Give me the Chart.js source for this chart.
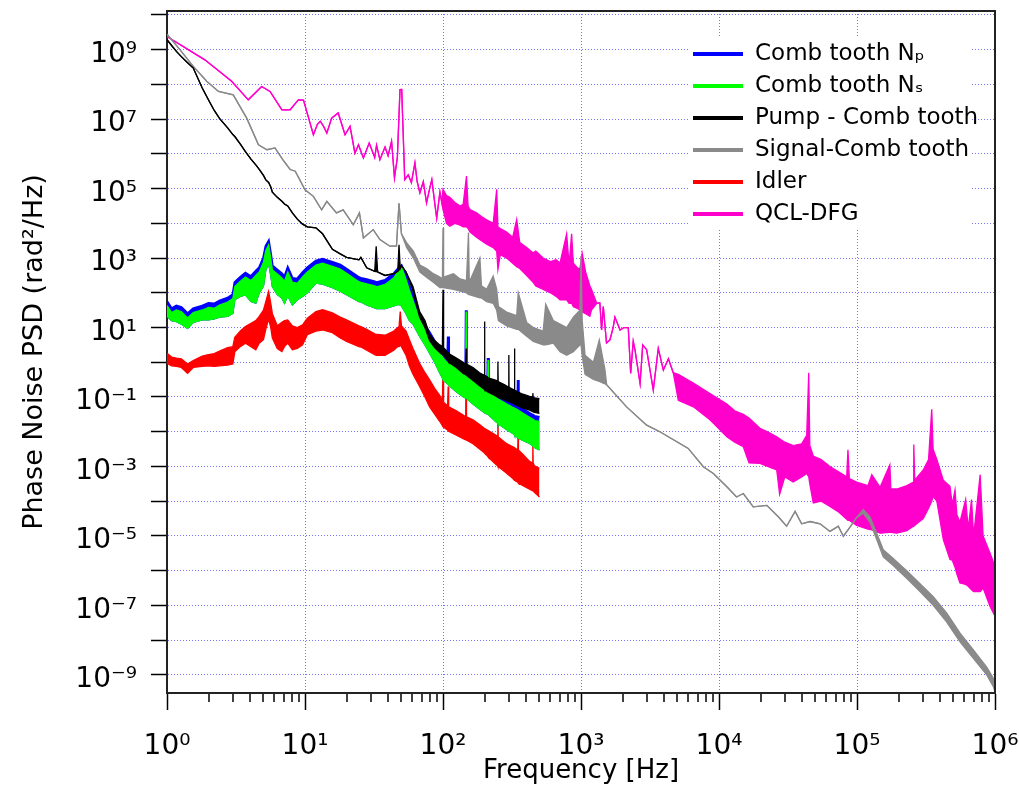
<!DOCTYPE html>
<html>
<head>
<meta charset="utf-8">
<script src="https://cdn.jsdelivr.net/npm/chart.js@4.4.1/dist/chart.umd.min.js"></script>
<style>
  html, body { margin: 0; padding: 0; background: #fff; }
  #wrap { width: 1019px; height: 787px; }
</style>
</head>
<body>
<div id="wrap"><canvas id="psdChart" width="1019" height="787"></canvas></div>
<script>
// Frequency grid [Hz] shared by the four comb / pump / idler traces
const combFreq = [
  1, 1.08, 1.17, 1.27, 1.41, 1.55, 1.8, 2, 2.2, 2.4,
  2.75, 3, 3.1, 3.4, 3.7, 4.06, 4.4, 4.66, 5, 5.2,
  5.45, 5.65, 5.8, 6.3, 6.8, 7.1, 7.5, 8.1, 8.8, 9.6,
  10.4, 12, 13.4, 15.8, 18, 20, 24.6, 25.4, 28, 32,
  32.8, 33.6, 38, 44, 47, 48, 49, 50, 54, 57,
  60.6, 67.7, 74, 80, 87, 94.6, 99, 100, 101, 108,
  109, 110, 125, 140, 146, 147, 148, 165, 184, 199,
  200, 201, 210, 212, 214, 243, 249, 250, 251, 280,
  299, 300, 301, 321, 329, 330, 331, 348, 350, 352,
  380, 424, 446, 448, 450, 460, 500
];

// Comb tooth Np (upper edge of the noise band)
const blueHi = [
  56, 35, 42, 38, 25, 35, 42, 50, 48, 58,
  71, 89, 200, 280, 370, 295, 420, 525, 1000, 2190,
  3020, 1260, 600, 457, 355, 282, 525, 263, 251, 380,
  525, 832, 933, 759, 631, 479, 275, 263, 240, 209,
  200, 200, 229, 355, 479, 525, 562, 603, 316, 158,
  79, 22, 11.2, 7.1, 4.0, 2.4, 1.9, 1.78, 1.66, 1.26,
  5.5, 1.2, 0.89, 0.68, 0.56, 31.6, 0.56, 0.45, 0.32, 0.24,
  0.234, 0.234, 0.2, 1.32, 0.2, 0.126, 0.117, 0.117, 0.115, 0.089,
  0.076, 0.076, 0.076, 0.066, 0.063, 0.063, 0.063, 0.056, 0.31, 0.055,
  0.045, 0.034, 0.030, 0.030, 0.030, 0.028, 0.026
];

// Comb tooth Ns
const greenHi = [
  43, 27, 32, 29, 19, 27, 32, 38, 36, 44,
  54, 68, 151, 214, 282, 224, 316, 398, 759, 1660,
  2400, 955, 457, 347, 269, 214, 398, 200, 190, 288,
  398, 631, 708, 575, 479, 363, 209, 200, 182, 158,
  151, 151, 174, 269, 398, 457, 525, 575, 240, 120,
  60, 17, 8.5, 5.4, 3.0, 1.82, 1.45, 1.35, 1.26, 0.95,
  0.93, 0.91, 0.68, 0.51, 0.43, 28.8, 0.43, 0.34, 0.24, 0.18,
  0.178, 0.178, 0.151, 1.17, 0.151, 0.095, 0.089, 0.089, 0.087, 0.068,
  0.058, 0.058, 0.058, 0.05, 0.048, 0.048, 0.048, 0.043, 0.042, 0.042,
  0.034, 0.026, 0.023, 0.023, 0.023, 0.021, 0.02
];
const greenLo = [
  21, 15.8, 14.8, 12.6, 9.5, 14.1, 16.6, 16.6, 17.8, 20,
  21, 25.7, 63, 79, 87, 56, 50, 100, 158, 457,
  708, 316, 151, 89, 71, 50, 83, 45, 63, 79,
  100, 190, 178, 141, 112, 89, 56, 55, 45, 37,
  35, 35, 35, 42, 46, 46, 45, 42, 25, 16,
  12.6, 5.6, 3.16, 1.82, 1.0, 0.5, 0.355, 0.316, 0.3, 0.24,
  0.23, 0.22, 0.141, 0.102, 0.093, 0.093, 0.093, 0.063, 0.045, 0.036,
  0.035, 0.035, 0.032, 0.032, 0.032, 0.019, 0.018, 0.017, 0.017, 0.0126,
  0.0105, 0.0105, 0.0105, 0.0089, 0.0083, 0.0079, 0.0079, 0.0068, 0.0066, 0.0066,
  0.0056, 0.0046, 0.004, 0.0039, 0.0038, 0.0035, 0.003
];

// Pump - Comb tooth
const pumpHi = [
  1.95e9, 1.32e9, 8.9e8, 6.3e8, 4.2e8, 2.95e8, 7.9e7, 3.55e7, 1.78e7, 1.05e7,
  5.6e6, 3.6e6, 3.16e6, 1.9e6, 1.17e6, 7.1e5, 4.8e5, 3.6e5, 2.4e5, 1.78e5,
  1.51e5, 1.12e5, 7.9e4, 5.6e4, 4.3e4, 3.6e4, 3.16e4, 2.0e4, 1.32e4, 9.5e3,
  7.9e3, 7.4e3, 5.0e3, 1.78e3, 1.32e3, 1.05e3, 890, 1050, 525, 417,
  2190, 398, 316, 355, 417, 2400, 501, 603, 398, 251,
  151, 28.8, 15.8, 6.3, 4.2, 3.16, 2.82, 123, 2.63, 2.0,
  1.9, 1.78, 1.32, 1.0, 0.89, 2.5, 0.89, 0.71, 0.5, 0.42,
  14.8, 0.42, 0.38, 0.355, 0.355, 0.3, 0.28, 1.05, 0.28, 0.224,
  0.19, 1.62, 0.19, 0.166, 0.158, 2.5, 0.158, 0.141, 0.138, 0.138,
  0.12, 0.105, 0.1, 0.129, 0.1, 0.095, 0.089
];
const pumpLo = [
  1.95e9, 1.32e9, 8.9e8, 6.3e8, 4.2e8, 2.95e8, 7.9e7, 3.55e7, 1.78e7, 1.05e7,
  5.6e6, 3.6e6, 3.16e6, 1.9e6, 1.17e6, 7.1e5, 4.8e5, 3.6e5, 2.4e5, 1.78e5,
  1.51e5, 1.12e5, 7.9e4, 5.6e4, 4.3e4, 3.6e4, 3.16e4, 2.0e4, 1.32e4, 9.5e3,
  7.9e3, 7.4e3, 5.0e3, 1.78e3, 1.32e3, 1.05e3, 890, 1050, 525, 417,
  407, 398, 316, 355, 417, 457, 501, 603, 398, 224,
  112, 20, 10, 4.2, 2.63, 1.9, 1.66, 1.62, 1.58, 1.12,
  1.07, 1.0, 0.71, 0.48, 0.44, 0.43, 0.42, 0.3, 0.21, 0.166,
  0.162, 0.158, 0.145, 0.138, 0.135, 0.105, 0.1, 0.1, 0.098, 0.083,
  0.074, 0.074, 0.074, 0.066, 0.063, 0.063, 0.062, 0.056, 0.055, 0.055,
  0.048, 0.042, 0.038, 0.038, 0.037, 0.036, 0.034
];

// Idler
const idlerHi = [
  1.82, 1.41, 1.32, 1.26, 0.89, 1.12, 1.51, 1.66, 1.78, 2.09,
  2.63, 2.82, 5.25, 7.94, 10.7, 13.2, 15.8, 20.9, 31.6, 56,
  110, 50, 25, 11.2, 14.1, 15.8, 16.6, 11.2, 10, 12,
  18.6, 28.8, 32.4, 26.3, 20, 16.6, 11.2, 10.7, 8.9, 6.6,
  6.3, 6.3, 6.0, 7.9, 10, 10.5, 28.8, 11.2, 7.9, 4.5,
  2.5, 0.93, 0.5, 0.31, 0.178, 0.112, 0.079, 0.6, 0.071, 0.056,
  0.2, 0.052, 0.04, 0.03, 0.027, 0.48, 0.027, 0.022, 0.016, 0.0126,
  0.0126, 0.0126, 0.0112, 0.011, 0.0107, 0.0079, 0.0076, 0.047, 0.0072, 0.005,
  0.0042, 0.0042, 0.0042, 0.0037, 0.0035, 0.0034, 0.0034, 0.003, 0.0089, 0.003,
  0.0022, 0.0014, 0.00126, 0.0058, 0.00126, 0.00105, 0.00089
];
const idlerLo = [
  0.93, 0.79, 0.76, 0.71, 0.48, 0.71, 0.76, 0.79, 0.76, 0.79,
  0.83, 0.89, 2.0, 2.82, 3.55, 2.82, 2.29, 3.55, 4.47, 8.9,
  17.8, 10, 5, 2.5, 2.04, 2.82, 3.55, 2.29, 2.5, 3.16,
  6.2, 7.9, 8.5, 7.1, 5.0, 4.0, 2.82, 2.75, 2.24, 1.66,
  1.58, 1.58, 1.58, 2.24, 2.82, 2.82, 3.02, 2.82, 1.58, 0.79,
  0.45, 0.2, 0.1, 0.052, 0.032, 0.02, 0.015, 0.0138, 0.0138, 0.0112,
  0.0105, 0.0105, 0.0079, 0.0063, 0.0058, 0.0058, 0.0058, 0.0045, 0.0032, 0.0025,
  0.0024, 0.0024, 0.002, 0.0019, 0.0018, 0.00112, 0.00105, 0.001, 0.001, 0.00071,
  0.00056, 0.00056, 0.00056, 0.00045, 0.0004, 0.0004, 0.0004, 0.00035, 0.00034, 0.00033,
  0.00028, 0.00022, 0.0002, 0.0002, 0.0002, 0.00018, 0.000132
];

// Signal - Comb tooth
const signalFreq = [
  1, 1.24, 1.55, 1.94, 2.36, 3.02, 3.78, 4.6, 5.3, 6.06,
  6.9, 7.8, 8.5, 10, 11.5, 13.2, 14.4, 16.9, 18.9, 22.4,
  24.8, 26.5, 31.2, 34.9, 41.2, 46, 48, 50, 54.6, 61,
  68, 76, 85, 95, 99, 100, 101, 119, 133, 148,
  153, 155, 185, 190, 207, 231, 245, 252, 289, 342,
  351, 404, 451, 532, 555, 630, 705, 787, 880, 983,
  1000, 1020, 1070, 1230, 1357, 1490, 1535, 2140, 2990, 3730,
  5985, 7700, 9100, 11400, 13400, 15000, 17700, 22200, 26900, 30900,
  35600, 39700, 45700, 54000, 63700, 73200, 79600, 89000, 99000, 111000,
  124000, 139000, 155000, 183000, 229000, 286000, 357000, 447000, 558000, 697000,
  871000, 975000, 1000000
];
const signalHi = [
  2.8e9, 1.0e9, 3.3e8, 1.23e8, 6.3e7, 5.0e7, 1.07e7, 1.82e6, 1.32e6, 1.48e6,
  6.8e5, 3.55e5, 3.16e5, 9.3e4, 6.0e4, 2.45e4, 4.3e4, 2.0e4, 2.45e4, 9.1e3,
  2.0e4, 3.8e3, 6.6e3, 3.4e3, 2.2e3, 2.2e3, 3.8e4, 5.0e3, 2.75e3, 1.58e3,
  631, 501, 355, 282, 251, 7.4e3, 282, 355, 251, 224,
  5.4e3, 200, 1.0e3, 158, 126, 302, 126, 40, 28, 22,
  100, 14, 10, 7.9, 47, 15.8, 12.6, 10, 20, 31.6,
  1150, 15.8, 1.58, 1.0, 4.4, 0.63, 0.224, 0.052, 0.0155, 0.01,
  0.0033, 9.8e-4, 6.3e-4, 2.6e-4, 1.32e-4, 1.66e-4, 6.9e-5, 7.6e-5, 3.55e-5, 1.9e-5,
  5.1e-5, 2.24e-5, 2.6e-5, 2.24e-5, 1.35e-5, 1.9e-5, 9.8e-6, 1.78e-5, 3.3e-5, 5.8e-5,
  3.55e-5, 1.2e-5, 4.0e-6, 2.24e-6, 1.0e-6, 4.2e-7, 1.78e-7, 6.0e-8, 1.58e-8, 5.2e-9,
  1.66e-9, 7.9e-10, 5.6e-10
];
const signalLo = [
  2.8e9, 1.0e9, 3.3e8, 1.23e8, 6.3e7, 5.0e7, 1.07e7, 1.82e6, 1.32e6, 1.48e6,
  6.8e5, 3.55e5, 3.16e5, 9.3e4, 6.0e4, 2.45e4, 4.3e4, 2.0e4, 2.45e4, 9.1e3,
  2.0e4, 3.8e3, 6.6e3, 3.4e3, 2.2e3, 2.2e3, 3.8e4, 5.0e3, 2.0e3, 1.0e3,
  398, 282, 200, 141, 141, 141, 141, 126, 112, 100,
  89, 89, 71, 71, 56, 50, 31.6, 15.8, 11.2, 8.9,
  8.9, 5.6, 4.0, 3.16, 3.16, 3.55, 2.0, 1.58, 2.0, 3.16,
  3.16, 1.58, 0.45, 0.32, 0.28, 0.24, 0.224, 0.052, 0.0155, 0.01,
  0.0033, 9.8e-4, 6.3e-4, 2.6e-4, 1.32e-4, 1.66e-4, 6.9e-5, 7.6e-5, 3.55e-5, 1.9e-5,
  5.1e-5, 2.24e-5, 2.6e-5, 2.24e-5, 1.35e-5, 1.9e-5, 9.8e-6, 1.78e-5, 3.3e-5, 4.5e-5,
  2.5e-5, 7.9e-6, 2.5e-6, 1.41e-6, 6.0e-7, 2.5e-7, 1.0e-7, 3.3e-8, 8.9e-9, 3.0e-9,
  1.0e-9, 4.5e-10, 3.2e-10
];

// QCL-DFG
const qclFreq = [
  1, 1.88, 2.94, 3.88, 4.85, 5.58, 6.8, 7.8, 8.95, 9.75,
  11.5, 12.3, 12.9, 13.6, 14.4, 15.6, 17.4, 19.5, 21.2, 23,
  24.4, 26.5, 29.2, 32, 33, 34.9, 38, 40, 42.4, 44.5,
  46.7, 48.8, 50.2, 52.8, 56, 59, 62.6, 65, 68, 72,
  76, 80, 83, 87, 90, 95, 98, 100, 106, 112,
  122, 133, 140, 148, 152, 157, 175, 190, 207, 231,
  245, 250, 260, 289, 320, 342, 360, 404, 450, 470,
  532, 600, 660, 705, 787, 820, 855, 880, 950, 983,
  1020, 1080, 1160, 1190, 1300, 1370, 1410, 1450, 1530, 1620,
  1710, 1760, 1920, 2050, 2200, 2290, 2390, 2460, 2680, 2800,
  2990, 3340, 3630, 3950, 4300, 4660, 5070, 6520, 8600, 11400,
  13000, 15000, 16500, 19800, 22500, 26200, 27500, 30000, 34500, 39700,
  43200, 44700, 45500, 48200, 55000, 63700, 73000, 84200, 86000, 88000,
  99400, 120000, 128000, 147000, 173000, 176000, 194000, 230000, 256000, 258000,
  262000, 302000, 330000, 348000, 356000, 379000, 422000, 472000, 490000, 513000,
  530000, 557000, 613000, 640000, 676000, 700000, 781000, 820000, 921000, 1000000
];
const qclHi = [
  2.4e9, 5.1e8, 1.23e8, 3.6e7, 8.7e7, 6.3e7, 1.86e7, 1.86e7, 3.6e7, 3.55e7,
  3.55e6, 7.1e6, 8.7e6, 6.3e6, 4.0e6, 1.07e7, 1.51e7, 3.55e6, 6.2e6, 1.05e6,
  1.82e6, 7.6e5, 2.04e6, 7.9e5, 1.78e6, 6.8e5, 1.58e6, 8.9e5, 2.3e6, 2.04e5,
  7.9e5, 7.1e7, 7.2e7, 1.82e5, 2.5e5, 1.48e5, 5.5e5, 1.58e5, 7.6e4, 1.58e5,
  3.9e4, 1.0e5, 1.82e5, 4.0e4, 1.41e4, 7.9e4, 4.0e4, 9.5e4, 6.3e4, 5.6e4,
  4.0e4, 3.16e4, 3.55e4, 2.3e5, 3.16e4, 2.5e4, 2.0e4, 1.58e4, 1.26e4, 1.0e4,
  9.5e4, 7.9e3, 7.1e3, 5.6e3, 4.0e3, 1.29e4, 2.8e3, 2.0e3, 1.41e3, 1.58e3,
  1.0e3, 794, 891, 724, 5.0e3, 631, 5.0e3, 708, 501, 501,
  1.38e3, 398, 158, 126, 50, 51, 8.5, 40, 3.6, 4.4,
  10, 20, 8.5, 10, 10, 0.48, 4.0, 2.3, 0.245, 3.16,
  2.3, 0.158, 2.5, 0.6, 1.26, 0.5, 0.45, 0.25, 0.126, 0.063,
  0.04, 0.0316, 0.025, 0.0126, 0.01, 0.0071, 0.0063, 0.005, 0.004, 0.0045,
  0.0079, 0.5, 0.004, 0.002, 0.00158, 1.0e-3, 7.1e-4, 5.0e-4, 3.0e-3, 4.5e-4,
  3.55e-4, 2.8e-4, 5.8e-4, 2.5e-4, 1.12e-3, 2.24e-4, 2.24e-4, 2.8e-4, 3.55e-4, 4.3e-3,
  4.0e-4, 7.9e-4, 1.58e-3, 0.044, 3.16e-3, 1.58e-3, 4.0e-4, 2.7e-4, 7.9e-5, 2.1e-4,
  4.0e-5, 2.5e-5, 1.12e-4, 1.58e-5, 1.12e-4, 1.0e-5, 5.8e-4, 1.0e-5, 3.16e-6, 1.32e-6
];
const qclLo = [
  2.4e9, 5.1e8, 1.23e8, 3.6e7, 8.7e7, 6.3e7, 1.86e7, 1.86e7, 3.6e7, 3.55e7,
  3.55e6, 7.1e6, 8.7e6, 6.3e6, 4.0e6, 1.07e7, 1.51e7, 3.55e6, 6.2e6, 1.05e6,
  1.82e6, 7.6e5, 2.04e6, 7.9e5, 1.78e6, 6.8e5, 1.58e6, 8.9e5, 2.3e6, 2.04e5,
  7.9e5, 7.1e7, 7.2e7, 1.82e5, 2.5e5, 1.48e5, 5.5e5, 1.58e5, 7.6e4, 1.58e5,
  3.9e4, 1.0e5, 1.82e5, 4.0e4, 1.41e4, 7.9e4, 4.0e4, 2.5e4, 1.0e4, 8.3e3,
  1.0e4, 8.9e3, 7.9e3, 7.9e3, 7.1e3, 5.6e3, 4.0e3, 3.16e3, 2.5e3, 2.0e3,
  1.58e3, 470, 1.26e3, 1.0e3, 710, 560, 500, 316, 200, 158,
  126, 100, 79, 63, 63, 50, 50, 40, 35, 31.6,
  28, 25, 21, 31.6, 50, 51, 8.5, 40, 3.6, 4.4,
  10, 20, 8.5, 10, 10, 0.48, 4.0, 2.3, 0.245, 3.16,
  2.3, 0.158, 2.5, 0.6, 1.26, 0.5, 0.081, 0.052, 0.022, 0.0072,
  0.005, 0.0037, 0.00126, 0.00123, 0.001, 7.9e-4, 1.58e-4, 5.0e-4, 3.55e-4, 5.0e-4,
  6.3e-4, 5.0e-4, 3.16e-4, 8.9e-5, 1.0e-4, 7.1e-5, 5.0e-5, 3.0e-5, 2.8e-5, 2.8e-5,
  2.0e-5, 1.58e-5, 1.5e-5, 1.2e-5, 1.26e-5, 1.26e-5, 1.2e-5, 1.41e-5, 1.9e-5, 2.0e-5,
  2.0e-5, 3.16e-5, 6.3e-5, 1.0e-4, 1.38e-4, 1.0e-4, 7.8e-6, 2.1e-6, 2.0e-6, 1.26e-6,
  7.9e-7, 4.4e-7, 4.0e-7, 3.55e-7, 2.8e-7, 2.5e-7, 2.5e-7, 3.16e-7, 9.3e-8, 4.9e-8
];

// Axis ticks
const xTicks = [1, 10, 100, 1e3, 1e4, 1e5, 1e6];
const yTicks = [1e-9, 1e-8, 1e-7, 1e-6, 1e-5, 1e-4, 1e-3, 1e-2, 1e-1, 1,
                10, 100, 1e3, 1e4, 1e5, 1e6, 1e7, 1e8, 1e9, 1e10];
const xMinorTicks = xTicks.slice(0, -1).flatMap(d => [2, 3, 4, 5, 6, 7, 8, 9].map(m => m * d));

const GRID = 'rgba(80, 80, 255, 0.8)';
const FONT = 'DejaVu Sans';
const SUP = {'0':'⁰','1':'¹','2':'²','3':'³','4':'⁴','5':'⁵','6':'⁶','7':'⁷','8':'⁸','9':'⁹','-':'⁻'};
const toSup = n => String(n).split('').map(c => SUP[c]).join('');
const isDecade = v => Math.abs(Math.log10(v) - Math.round(Math.log10(v))) < 1e-6;
const powLabel = v => '10' + toSup(Math.round(Math.log10(v)));

// each trace = upper edge + lower edge, the band between them filled
function band(label, color, freq, hi, lo, order, width = 1.3) {
  const pts = arr => freq.map((f, i) => ({ x: f, y: arr[i] }));
  return [
    { label, data: pts(hi), borderColor: color, backgroundColor: color,
      borderWidth: width, pointRadius: 0, fill: false, order },
    { label: label + ' (lower)', lowEdge: true, data: pts(lo), borderColor: color,
      backgroundColor: color, borderWidth: 1.3, pointRadius: 0, fill: '-1', order }
  ];
}

const datasets = [
  ...band('Comb tooth Nₚ', '#0000ff', combFreq, blueHi, greenLo, 4, 2.6),
  ...band('Comb tooth Nₛ', '#00ff00', combFreq, greenHi, greenLo, 3),
  ...band('Pump - Comb tooth', '#000000', combFreq, pumpHi, pumpLo, 1),
  ...band('Signal-Comb tooth', '#8a8a8a', signalFreq, signalHi, signalLo, 2),
  ...band('Idler', '#ff0000', combFreq, idlerHi, idlerLo, 5),
  ...band('QCL-DFG', '#ff00cc', qclFreq, qclHi, qclLo, 6)
];

// fixed axis boxes, no automatic padding for overhanging labels
const fixBox = size => s => {
  if (s.isHorizontal()) s.height = size; else s.width = size;
  s.paddingLeft = 0; s.paddingRight = 0; s.paddingTop = 0; s.paddingBottom = 0;
};

// top and right edges of the plot frame
const frame = {
  id: 'frame',
  afterDatasetsDraw(chart) {
    const { ctx, chartArea: a } = chart;
    ctx.save();
    ctx.strokeStyle = '#222';
    ctx.lineWidth = 2;
    ctx.beginPath();
    ctx.moveTo(a.left, a.top);
    ctx.lineTo(a.right, a.top);
    ctx.lineTo(a.right, a.bottom);
    ctx.stroke();
    ctx.restore();
  }
};

// legend in the upper right of the plot
const legendBox = {
  id: 'legendBox',
  afterDraw(chart) {
    const { ctx, chartArea: a } = chart;
    const items = chart.data.datasets.filter(d => !d.lowEdge);
    ctx.save();
    ctx.fillStyle = '#fff';
    ctx.fillRect(a.right - 307, a.top + 27, 282, 192);
    ctx.font = '23px "' + FONT + '"';
    ctx.textBaseline = 'middle';
    items.forEach((d, i) => {
      const y = a.top + 43 + i * 32;
      ctx.strokeStyle = d.borderColor;
      ctx.lineWidth = 4;
      ctx.beginPath();
      ctx.moveTo(a.right - 302, y);
      ctx.lineTo(a.right - 252, y);
      ctx.stroke();
      ctx.fillStyle = '#000';
      ctx.fillText(d.label, a.right - 240, y);
    });
    ctx.restore();
  }
};

new Chart(document.getElementById('psdChart'), {
  type: 'line',
  data: { datasets },
  options: {
    responsive: false,
    devicePixelRatio: 1,
    animation: false,
    layout: { padding: { left: 0, right: 24, top: 11, bottom: 0 }, autoPadding: false },
    plugins: { legend: { display: false }, tooltip: { enabled: false } },
    scales: {
      x: {
        type: 'logarithmic',
        min: 1,
        max: 1e6,
        afterBuildTicks: s => { s.ticks = [...xTicks, ...xMinorTicks].sort((a, b) => a - b).map(v => ({ value: v })); },
        afterFit: fixBox(94),
        ticks: {
          autoSkip: false, maxRotation: 0, padding: 20, color: '#000',
          font: { family: FONT, size: 28 },
          callback: v => isDecade(v) ? powLabel(v) : ''
        },
        grid: {
          color: c => (c.tick && isDecade(c.tick.value)) ? GRID : 'rgba(0,0,0,0)',
          lineWidth: c => (c.tick && isDecade(c.tick.value)) ? 1 : 0,
          tickLength: 17, tickColor: '#000', tickWidth: 1.5,
          tickBorderDash: c => (c.tick && isDecade(c.tick.value)) ? [] : [8, 40]
        },
        border: { display: true, color: '#222', width: 2, dash: [1, 2] },
        title: {
          display: true, text: 'Frequency [Hz]', color: '#000',
          font: { family: FONT, size: 26 }, padding: { top: 0, bottom: 0 }
        }
      },
      y: {
        type: 'logarithmic',
        min: 3e-10,
        max: 1.3e10,
        afterBuildTicks: s => { s.ticks = yTicks.map(v => ({ value: v })); },
        afterFit: fixBox(167),
        ticks: {
          autoSkip: false, padding: 14, labelOffset: 5, color: '#000',
          font: { family: FONT, size: 28 },
          callback: v => (Math.abs(Math.round(Math.log10(v))) % 2 === 1) ? powLabel(v) : ''
        },
        grid: { color: GRID, lineWidth: 1, tickLength: 16, tickColor: '#000', tickWidth: 1.5 },
        border: { display: true, color: '#222', width: 2, dash: [1, 2] },
        title: {
          display: true, text: 'Phase Noise PSD (rad²/Hz)', color: '#000',
          font: { family: FONT, size: 27 }, padding: { top: 19, bottom: 0 }
        }
      }
    }
  },
  plugins: [frame, legendBox]
});
</script>
</body>
</html>
